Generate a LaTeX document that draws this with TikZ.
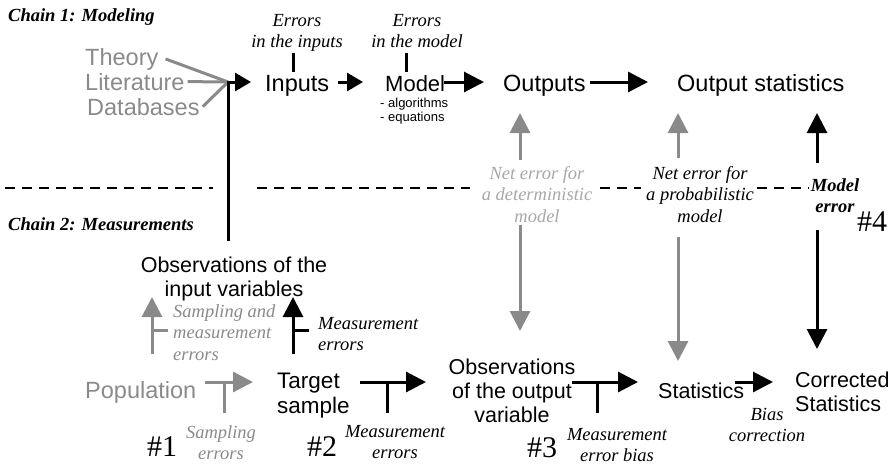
\documentclass[tikz,border=0pt]{standalone}
\usepackage{fontspec}
\setmainfont{Liberation Serif}
\setsansfont{Liberation Sans}
\usetikzlibrary{arrows.meta}
\definecolor{gA}{HTML}{8A8A8A}
\definecolor{gB}{HTML}{A8A8A8}
\newcommand{\mlines}[2]{\begin{tabular}[t]{@{}#1@{}}#2\end{tabular}}
\begin{document}
\begin{tikzpicture}[x=1pt,y=-1pt,
  bigt/.style={font=\sffamily\fontsize{23.5}{24.5}\selectfont,inner sep=0pt},
  bigb/.style={font=\sffamily\fontsize{21.5}{24}\selectfont,inner sep=0pt},
  smallt/.style={font=\sffamily\fontsize{13}{14}\selectfont,inner sep=0pt},
  itl/.style={font=\itshape\fontsize{18.5}{21.5}\selectfont,inner sep=0pt},
  bit/.style={font=\bfseries\itshape\fontsize{18.5}{21}\selectfont,inner sep=0pt},
  hasht/.style={font=\fontsize{30}{32}\selectfont,inner sep=0pt},
  blk/.style={line width=3pt,black},
  gry/.style={line width=3pt,gA},
  arr/.style={-{Triangle[length=20pt,width=20pt]}},
  arrs/.style={-{Triangle[length=16pt,width=18pt]}},
  divider/.style={line width=2.5pt,black,dash pattern=on 10pt off 7pt},
]
\useasboundingbox (0,0) rectangle (890,466);

% ---------- Chain 1 ----------
\node[bit,anchor=base west] (chain1) at (8,21) {Chain 1: Modeling};
\node[bigt,gA,anchor=base west] (theory) at (85,65) {Theory};
\node[bigt,gA,anchor=base west] (lit) at (85,90) {Literature};
\node[bigt,gA,anchor=base west] (db) at (87,115) {Databases};
\node[bigt,anchor=base west] (inputs) at (265,91) {Inputs};
\node[bigt,anchor=base west,font=\sffamily\fontsize{22}{24}\selectfont] (model) at (385,91) {Model};
\node[bigt,anchor=base west] (outputs) at (503,91) {Outputs};
\node[bigt,anchor=base west] (ostat) at (677,91) {Output statistics};
\node[itl,anchor=base] (errin) at (297,26) {\mlines{c}{Errors\\in the inputs}};
\node[itl,anchor=base] (errmod) at (417,26) {\mlines{c}{Errors\\in the model}};
\node[smallt,anchor=base west] (algo) at (380,107) {\mlines{l}{- algorithms\\- equations}};

\coordinate (J) at (228,82);
\coordinate (Jtip) at (251,82);
\draw[gry] ([xshift=7pt]theory.east) -- (J);
\draw[gry] ([xshift=3pt]lit.east) -- (J);
\draw[gry] ([xshift=3pt]db.east) -- (J);
\draw[blk,arrs] (J) -- (Jtip);

\coordinate (imA) at (338,82); \coordinate (imB) at (363,82);
\draw[blk,arrs] (imA) -- (imB);
\coordinate (moA) at (444,82); \coordinate (moB) at (484,82);
\draw[blk,arr] (moA) -- (moB);
\coordinate (osA) at (590,82); \coordinate (osB) at (648,82);
\draw[blk,arr] (osA) -- (osB);

\coordinate (t1a) at (293,53); \coordinate (t1b) at (293,72);
\draw[blk] (t1a) -- (t1b);
\coordinate (t2a) at (406,53); \coordinate (t2b) at (406,72);
\draw[blk] (t2a) -- (t2b);

% ---------- divider ----------
\draw[divider] (5,188) -- (213,188);
\draw[divider] (257,188) -- (470,188);
\draw[divider] (600,188) -- (641,188);
\draw[divider] (757,188) -- (809,188);

\node[itl,gB,anchor=base] (netd) at (537,179) {\mlines{c}{Net error for\\a deterministic\\model}};
\node[itl,anchor=base] (netp) at (700,179) {\mlines{c}{Net error for\\a probabilistic\\model}};
\node[bit,anchor=base] (merr) at (835,191) {\mlines{c}{Model\\error}};
\node[hasht,anchor=base west] (h4) at (857,231) {\#4};

% vertical error arrows
\coordinate (u1a) at (520,160); \coordinate (u1b) at (520,113);
\draw[gry,arr] (u1a) -- (u1b);
\coordinate (u2a) at (678,158); \coordinate (u2b) at (678,113);
\draw[gry,arr] (u2a) -- (u2b);
\coordinate (u3a) at (817,163); \coordinate (u3b) at (817,113);
\draw[blk,arr] (u3a) -- (u3b);
\coordinate (d1a) at (520,225); \coordinate (d1b) at (520,331);
\draw[gry,arr] (d1a) -- (d1b);
\coordinate (d2a) at (678,237); \coordinate (d2b) at (678,361);
\draw[gry,arr] (d2a) -- (d2b);
\coordinate (d3a) at (817,230); \coordinate (d3b) at (817,349);
\draw[blk,arr] (d3a) -- (d3b);

% ---------- Chain 2 ----------
\node[bit,anchor=base west] (chain2) at (8,230) {Chain 2: Measurements};
\node[bigb,anchor=base] (obsin) at (234,272) {\mlines{c}{Observations of the\\input variables}};
\coordinate (V) at (228,241);
\draw[blk] (V) -- ([yshift=1.5pt]J);

\node[itl,gA,anchor=base west] (sme) at (173,317) {\mlines{l}{Sampling and\\measurement\\errors}};
\node[itl,anchor=base west] (me1) at (318,329) {\mlines{l}{Measurement\\errors}};
\coordinate (ga) at (152,354); \coordinate (gb) at (152,297);
\draw[gry,arr] (ga) -- (gb);
\coordinate (gt) at (152,330); \coordinate (gt2) at (168,330);
\draw[gry] (gt) -- (gt2);
\coordinate (ba) at (293,354); \coordinate (bb) at (293,297);
\draw[blk,arr] (ba) -- (bb);
\coordinate (bt) at (293,330); \coordinate (bt2) at (309,330);
\draw[blk] (bt) -- (bt2);

\node[bigt,gA,anchor=base west] (pop) at (85,398) {Population};
\node[bigb,anchor=base west,font=\sffamily\fontsize{22.5}{25}\selectfont] (target) at (277,388) {\mlines{l}{Target\\sample}};
\node[bigb,anchor=base] (obsout) at (512,374) {\mlines{c}{Observations\\of the output\\variable}};
\node[bigb,anchor=base west] (stats) at (658,398) {Statistics};
\node[bigb,anchor=base west] (corr) at (795,387) {\mlines{l}{Corrected\\Statistics}};

\coordinate (p1a) at (205,382); \coordinate (p1b) at (253,382);
\draw[gry,arr] (p1a) -- (p1b);
\coordinate (p1t) at (224,382); \coordinate (p1u) at (224,413);
\draw[gry] (p1t) -- (p1u);
\coordinate (p2a) at (360,382); \coordinate (p2b) at (426,382);
\draw[blk,arr] (p2a) -- (p2b);
\coordinate (p2t) at (387,382); \coordinate (p2u) at (387,413);
\draw[blk] (p2t) -- (p2u);
\coordinate (p3a) at (572,382); \coordinate (p3b) at (638,382);
\draw[blk,arr] (p3a) -- (p3b);
\coordinate (p3t) at (597,382); \coordinate (p3u) at (597,413);
\draw[blk] (p3t) -- (p3u);
\coordinate (p4a) at (735,382); \coordinate (p4b) at (773,382);
\draw[blk,arr] (p4a) -- (p4b);

\node[hasht,anchor=base west] (h1) at (147,456) {\#1};
\node[itl,gA,anchor=base] (se) at (221,438) {\mlines{c}{Sampling\\errors}};
\node[hasht,anchor=base west] (h2) at (307,456) {\#2};
\node[itl,anchor=base] (me2) at (395,437) {\mlines{c}{Measurement\\errors}};
\node[hasht,anchor=base west] (h3) at (527,457) {\#3};
\node[itl,anchor=base] (meb) at (617,440) {\mlines{c}{Measurement\\error bias}};
\node[itl,anchor=base] (bias) at (767,420) {\mlines{c}{Bias\\correction}};
\end{tikzpicture}
\end{document}
